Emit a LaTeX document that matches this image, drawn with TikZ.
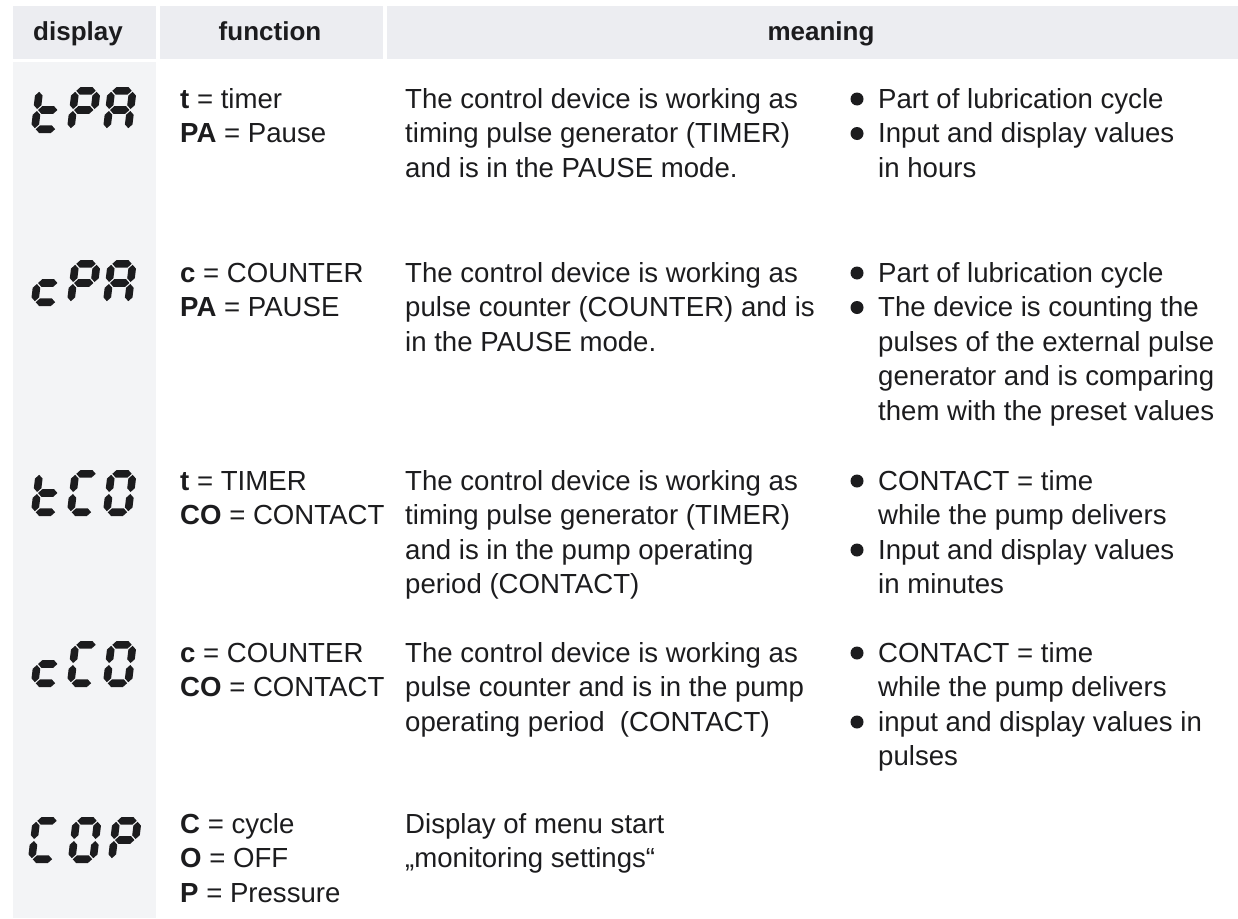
\documentclass[tikz,border=0pt]{standalone}
\usepackage{fontspec}
\setmainfont{Liberation Sans}
\definecolor{headgray}{RGB}{236,237,241}
\definecolor{colgray}{RGB}{243,244,246}
\definecolor{ink}{RGB}{28,28,30}

% seven-segment segments (local frame: origin top-left, y downwards, 29 x 46)
\tikzset{
  pics/sega/.style={code={\fill[ink] (4.8,3.8)--(8.6,0)--(20.4,0)--(24.2,3.8)--(20.4,7.6)--(8.6,7.6)--cycle;}},
  pics/segg/.style={code={\fill[ink] (4.8,23)--(8.6,19.2)--(20.4,19.2)--(24.2,23)--(20.4,26.8)--(8.6,26.8)--cycle;}},
  pics/segd/.style={code={\fill[ink] (4.8,42.2)--(8.6,38.4)--(20.4,38.4)--(24.2,42.2)--(20.4,46)--(8.6,46)--cycle;}},
  pics/segf/.style={code={\fill[ink] (3.8,4.8)--(7.6,8.6)--(7.6,18.2)--(3.8,22)--(0,18.2)--(0,8.6)--cycle;}},
  pics/sege/.style={code={\fill[ink] (3.8,24)--(7.6,27.8)--(7.6,37.4)--(3.8,41.2)--(0,37.4)--(0,27.8)--cycle;}},
  pics/segb/.style={code={\fill[ink] (25.2,4.8)--(29,8.6)--(29,18.2)--(25.2,22)--(21.4,18.2)--(21.4,8.6)--cycle;}},
  pics/segc/.style={code={\fill[ink] (25.2,24)--(29,27.8)--(29,37.4)--(25.2,41.2)--(21.4,37.4)--(21.4,27.8)--cycle;}},
  % text blocks are anchored at the baseline of their LAST line
  txt/.style={anchor=base west, inner sep=0pt, align=left, text=ink,
              font=\fontsize{27.6}{34.5}\selectfont},
  headtxt/.style={anchor=base, inner sep=0pt, text=ink,
              font=\fontsize{26}{30}\selectfont\bfseries},
  bulletdot/.style={fill=ink},
}

% \lcd{x}{y}{segment list macro}: one slanted digit, top-left corner at (x,y)
\newcommand{\lcd}[3]{%
  \begin{scope}[shift={(#1,#2)}, xslant=0.12]
    \foreach \s in #3 { \pic[transform shape] {seg\s}; }
  \end{scope}}
\def\Dt{f,g,e,d}
\def\DP{a,b,f,g,e}
\def\DA{a,b,c,e,f,g}
\def\Dc{g,e,d}
\def\DC{a,f,e,d}
\def\DO{a,b,c,d,e,f}
% bullet in front of a list item whose first baseline is at height #1
\newcommand{\bul}[1]{\fill[bulletdot] (857,#1-9) circle (6.5);}

\begin{document}
\begin{tikzpicture}[x=1pt, y=-1pt]
  \useasboundingbox (0,0) rectangle (1238,918);
  \fill[white] (0,0) rectangle (1238,918);

  % header cells
  \fill[headgray] (13,6) rectangle (156,59);
  \fill[headgray] (160,6) rectangle (383,59);
  \fill[headgray] (387,6) rectangle (1238,59);
  \node[headtxt] (hdisp) at (78,40) {display};
  \node[headtxt] (hfunc) at (270,40) {function};
  \node[headtxt] (hmean) at (821,40) {meaning};

  % display column
  \fill[colgray] (13,62) rectangle (156,918);

  % digits
  \lcd{36}{87}{\Dt}  \lcd{72}{87}{\DP}  \lcd{108}{87}{\DA}
  \lcd{36}{260}{\Dc} \lcd{72}{260}{\DP} \lcd{108}{260}{\DA}
  \lcd{36}{470}{\Dt} \lcd{72}{470}{\DC} \lcd{108}{470}{\DO}
  \lcd{36}{641}{\Dc} \lcd{72}{641}{\DC} \lcd{108}{641}{\DO}
  \lcd{33}{817}{\DC} \lcd{73}{817}{\DO} \lcd{113}{817}{\DP}

  % row 1 (first baseline 108)
  \node[txt] (f1) at (180,142.5) {\textbf{t} = timer\\\textbf{PA} = Pause};
  \node[txt] (m1) at (405,177) {The control device is working as\\timing pulse generator (TIMER)\\and is in the PAUSE mode.};
  \node[txt] (b1a) at (878,108) {Part of lubrication cycle};
  \node[txt] (b1b) at (878,177) {Input and display values\\in hours};
  \bul{108} \bul{142.5}

  % row 2 (first baseline 282)
  \node[txt] (f2) at (180,316.5) {\textbf{c} = COUNTER\\\textbf{PA} = PAUSE};
  \node[txt] (m2) at (405,351) {The control device is working as\\pulse counter (COUNTER) and is\\in the PAUSE mode.};
  \node[txt] (b2a) at (878,282) {Part of lubrication cycle};
  \node[txt] (b2b) at (878,420) {The device is counting the\\pulses of the external pulse\\generator and is comparing\\them with the preset values};
  \bul{282} \bul{316.5}

  % row 3 (first baseline 490)
  \node[txt] (f3) at (180,524.5) {\textbf{t} = TIMER\\\textbf{CO} = CONTACT};
  \node[txt] (m3) at (405,593.5) {The control device is working as\\timing pulse generator (TIMER)\\and is in the pump operating\\period (CONTACT)};
  \node[txt] (b3a) at (878,524.5) {CONTACT = time\\while the pump delivers};
  \node[txt] (b3b) at (878,593.5) {Input and display values\\in minutes};
  \bul{490} \bul{559}

  % row 4 (first baseline 662)
  \node[txt] (f4) at (180,696.5) {\textbf{c} = COUNTER\\\textbf{CO} = CONTACT};
  \node[txt] (m4) at (405,731) {The control device is working as\\pulse counter and is in the pump\\operating period~ (CONTACT)};
  \node[txt] (b4a) at (878,696.5) {CONTACT = time\\while the pump delivers};
  \node[txt] (b4b) at (878,765.5) {input and display values in\\pulses};
  \bul{662} \bul{731}

  % row 5 (first baseline 833)
  \node[txt] (f5) at (180,902) {\textbf{C} = cycle\\\textbf{O} = OFF\\\textbf{P} = Pressure};
  \node[txt] (m5) at (405,867.5) {Display of menu start\\„monitoring settings“};
\end{tikzpicture}
\end{document}
